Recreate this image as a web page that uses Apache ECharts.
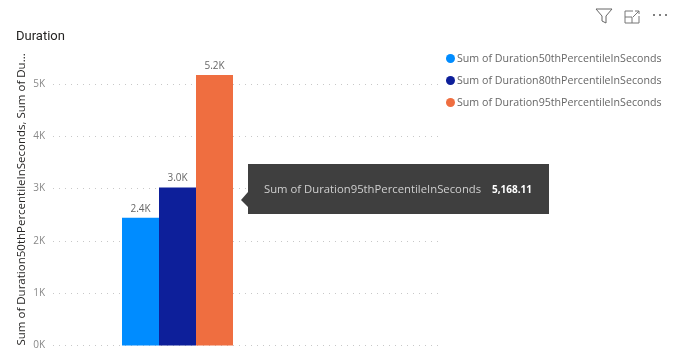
<!DOCTYPE html>
<html><head><meta charset="utf-8">
<style>html,body{margin:0;padding:0;background:#fff}#c{width:674px;height:358px}</style>
<script src="https://cdn.jsdelivr.net/npm/echarts@6/dist/echarts.min.js"></script>
</head><body><div id="c"></div>
<script>
const categories = ['Duration'];
const seriesNames = ['Sum of Duration50thPercentileInSeconds','Sum of Duration80thPercentileInSeconds','Sum of Duration95thPercentileInSeconds'];
const p50 = [2440];
const p80 = [3020];
const p95 = [5168.11];
const colors = ['#008CFF','#0D1F9A','#EF6E40'];
const tickLabelFont = 'Open Sans';
const textFont = 'Open Sans';
const axisMax = 5500;
const fmtK = v => (v/1000).toFixed(0)+'K';
const chart = echarts.init(document.getElementById('c'),null,{renderer:'canvas'});
const yCommon = {type:'value',min:0,max:axisMax,interval:1000};
const mk = (name,data,i)=>({
  name,type:'bar',xAxisIndex:1,yAxisIndex:1,data,barWidth:37,barGap:0,
  itemStyle:{color:colors[i]},
  label:{show:true,position:'top',distance:4,fontFamily:textFont,fontSize:10,color:'#666',
    formatter:p=>(p.value/1000).toFixed(1)+'K'}
});
chart.setOption({
  animation:false,
  title:{text:'Duration',left:11,top:25,textStyle:{fontFamily:'Roboto',fontSize:13,fontWeight:'normal',color:'#252423'}},
  legend:{orient:'vertical',left:441,top:48,itemWidth:9,itemHeight:9,itemGap:11,icon:'circle',
    data:seriesNames,selectedMode:false,
    textStyle:{fontFamily:textFont,fontSize:10.65,color:'#666',padding:[0,0,0,-3]}},
  grid:[
    {left:53,width:389,top:57.6,bottom:12.5},
    {left:53,width:249,top:57.6,bottom:12.5}
  ],
  xAxis:[
    {gridIndex:0,type:'category',data:categories,axisLine:{show:false},axisTick:{show:false},axisLabel:{show:false}},
    {gridIndex:1,type:'category',data:categories,axisLine:{show:false},axisTick:{show:false},axisLabel:{show:false}}
  ],
  yAxis:[
    {...yCommon,gridIndex:0,
      name:'Sum of Duration50thPercentileInSeconds, Sum of Du...',nameLocation:'start',nameRotate:90,
      nameGap:0,
      nameTextStyle:{fontFamily:textFont,fontSize:11.5,color:'#252423',align:'left',verticalAlign:'bottom',padding:[0,0,25,0]},
      axisLine:{show:false},axisTick:{show:false},
      axisLabel:{fontFamily:tickLabelFont,fontSize:10,color:'#888',margin:8,showMaxLabel:false,padding:[4,0,0,0],formatter:fmtK},
      splitLine:{show:true,showMaxLine:false,lineStyle:{type:[1,5],color:'#c8c8c8',width:1}}},
    {...yCommon,gridIndex:1,show:false,splitLine:{show:false}}
  ],
  series:[mk(seriesNames[0],p50,0),mk(seriesNames[1],p80,1),mk(seriesNames[2],p95,2)],
  graphic:[
    {type:'rect',z:50,shape:{x:248,y:164,width:301,height:50},style:{fill:'#3f3f3f'}},
    {type:'polygon',z:50,shape:{points:[[248,192],[241,200],[248,207]]},style:{fill:'#3f3f3f'}},
    {type:'text',z:51,x:264,y:190,style:{text:seriesNames[2],fontFamily:textFont,fontSize:11.3,fill:'#cfcfcf',verticalAlign:'middle'}},
    {type:'text',z:51,x:532,y:190,style:{text:p95[0].toLocaleString('en-US',{minimumFractionDigits:2}),fontFamily:textFont,fontSize:10,fontWeight:'bold',fill:'#fff',align:'right',verticalAlign:'middle'}},
    {type:'polyline',z:50,shape:{points:[[596,9],[612,9],[606,16],[606,23],[602,21],[602,16],[596,9]]},style:{fill:null,stroke:'#666',lineWidth:1}},
    {type:'polyline',z:50,shape:{points:[[633,11],[625,11],[625,23],[639,23],[639,16]]},style:{fill:null,stroke:'#777',lineWidth:1}},
    {type:'polyline',z:50,shape:{points:[[625,17],[632,17],[632,23]]},style:{fill:null,stroke:'#777',lineWidth:1}},
    {type:'polyline',z:50,shape:{points:[[633,17],[639,11]]},style:{fill:null,stroke:'#777',lineWidth:1}},
    {type:'polyline',z:50,shape:{points:[[635,11],[639,11],[639,14]]},style:{fill:null,stroke:'#777',lineWidth:1}},
    {type:'circle',z:50,shape:{cx:654,cy:15,r:1},style:{fill:'#555'}},
    {type:'circle',z:50,shape:{cx:660,cy:15,r:1},style:{fill:'#555'}},
    {type:'circle',z:50,shape:{cx:666,cy:15,r:1},style:{fill:'#555'}}
  ]
});
</script></body></html>
